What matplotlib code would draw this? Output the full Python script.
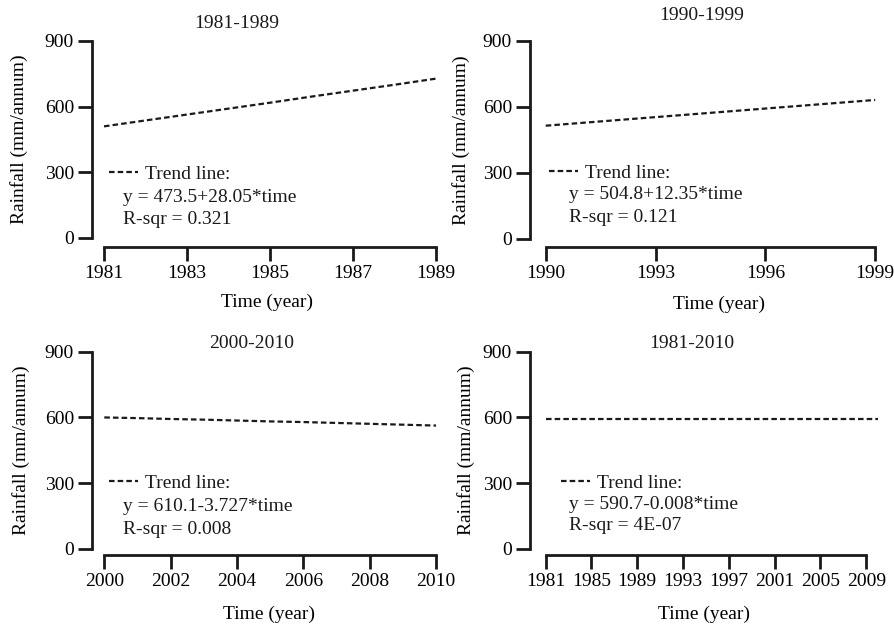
import matplotlib
matplotlib.use("Agg")
import matplotlib.pyplot as plt
from matplotlib.lines import Line2D

plt.rcParams['font.family'] = ['Liberation Serif', 'DejaVu Serif']
plt.rcParams['font.size'] = 14
plt.rcParams['text.color'] = '#1a1a1a'

# trend line values (mm/annum)
years_8189 = [1981, 1982, 1983, 1984, 1985, 1986, 1987, 1988, 1989]
rain_8189 = [510, 537, 564, 591, 618, 646, 673, 700, 728]

years_9099 = [1990, 1991, 1992, 1993, 1994, 1995, 1996, 1997, 1998, 1999]
rain_9099 = [515, 528, 541, 554, 567, 580, 593, 606, 619, 632]

years_0010 = [2000, 2001, 2002, 2003, 2004, 2005, 2006, 2007, 2008, 2009, 2010]
rain_0010 = [600, 597, 593, 590, 586, 582, 579, 575, 571, 567, 563]

years_8110 = list(range(1981, 2011))
rain_8110 = [591, 591, 591, 591, 591, 591, 591, 591, 591, 591,
             591, 591, 591, 591, 591, 591, 591, 591, 591, 591,
             591, 591, 591, 591, 591, 591, 591, 591, 591, 591]

titles = ["1981-1989", "1990-1999", "2000-2010", "1981-2010"]
equations = ["y = 473.5+28.05*time", "y = 504.8+12.35*time",
             "y = 610.1-3.727*time", "y = 590.7-0.008*time"]
rsqr = ["R-sqr = 0.321", "R-sqr = 0.121", "R-sqr = 0.008", "R-sqr = 4E-07"]
xticks = [[1981, 1983, 1985, 1987, 1989],
          [1990, 1993, 1996, 1999],
          [2000, 2002, 2004, 2006, 2008, 2010],
          [1981, 1985, 1989, 1993, 1997, 2001, 2005, 2009]]
yticks = [0, 300, 600, 900]

series = [(years_8189, rain_8189), (years_9099, rain_9099),
          (years_0010, rain_0010), (years_8110, rain_8110)]

# layout: [left, bottom, width, height], xlim, spine offset (px), title pos,
# legend anchor, equation x/y, ylabel x, xlabel x
panels = [
    dict(rect=[0.1028, 0.6186, 0.3888, 0.3157], xlim=(1980.711, 1989.1), off=9,
         title=(0.417, 1.091), leg=(0.049, 0.325), eq=(0.088, 0.208, 0.096),
         ylab=-0.184, xlab=0.503),
    dict(rect=[0.5922, 0.6170, 0.3910, 0.3173], xlim=(1989.571, 1999.13), off=8,
         title=(0.49, 1.131), leg=(0.054, 0.333), eq=(0.112, 0.227, 0.111),
         ylab=-0.171, xlab=0.539),
    dict(rect=[0.1028, 0.1202, 0.3888, 0.3162], xlim=(1999.63, 2010.12), off=6,
         title=(0.46, 1.044), leg=(0.049, 0.336), eq=(0.088, 0.214, 0.100),
         ylab=-0.178, xlab=0.509),
    dict(rect=[0.5922, 0.1202, 0.3910, 0.3162], xlim=(1979.63, 2010.2), off=6,
         title=(0.462, 1.044), leg=(0.089, 0.336), eq=(0.112, 0.228, 0.117),
         ylab=-0.157, xlab=0.497),
]

dash = (0, (2.5, 1.4))
fig = plt.figure(figsize=(8.95, 6.24), dpi=100)

for i, p in enumerate(panels):
    ax = fig.add_axes(p['rect'])
    x, y = series[i]
    ax.plot(x, y, color='#1a1a1a', lw=1.6, linestyle=dash, clip_on=False)

    ax.set_xlim(*p['xlim'])
    ax.set_ylim(0, 900)
    ax.set_xticks(xticks[i])
    ax.set_yticks(yticks)

    for s in ['top', 'right']:
        ax.spines[s].set_visible(False)
    ax.spines['bottom'].set_position(('outward', p['off'] * 0.72))
    ax.spines['bottom'].set_bounds(xticks[i][0], xticks[i][-1])
    ax.spines['left'].set_bounds(0, 900)
    for s in ['left', 'bottom']:
        ax.spines[s].set_linewidth(2)
        ax.spines[s].set_color('#1a1a1a')
    ax.tick_params(length=10, width=2, pad=3, color='#1a1a1a', labelsize=14)

    ax.text(p['title'][0], p['title'][1], titles[i], transform=ax.transAxes,
            ha='center', va='center', fontsize=14)

    ax.set_ylabel("Rainfall (mm/annum)", fontsize=14)
    ax.yaxis.set_label_coords(p['ylab'], 0.5)
    ax.set_xlabel("Time (year)", fontsize=14)
    ax.xaxis.set_label_coords(p['xlab'], -0.285)

    handle = Line2D([], [], color='#1a1a1a', lw=1.6, linestyle=dash)
    ax.legend([handle], ["Trend line:"], loc='center left',
              bbox_to_anchor=(p['leg'][0], p['leg'][1]), frameon=False,
              borderpad=0, borderaxespad=0, handlelength=1.5,
              handletextpad=0.35, fontsize=14)
    ax.text(p['eq'][0], p['eq'][1], equations[i], transform=ax.transAxes,
            ha='left', va='center', fontsize=14)
    ax.text(p['eq'][0], p['eq'][2], rsqr[i], transform=ax.transAxes,
            ha='left', va='center', fontsize=14)

fig.savefig("out.png", dpi=100)
